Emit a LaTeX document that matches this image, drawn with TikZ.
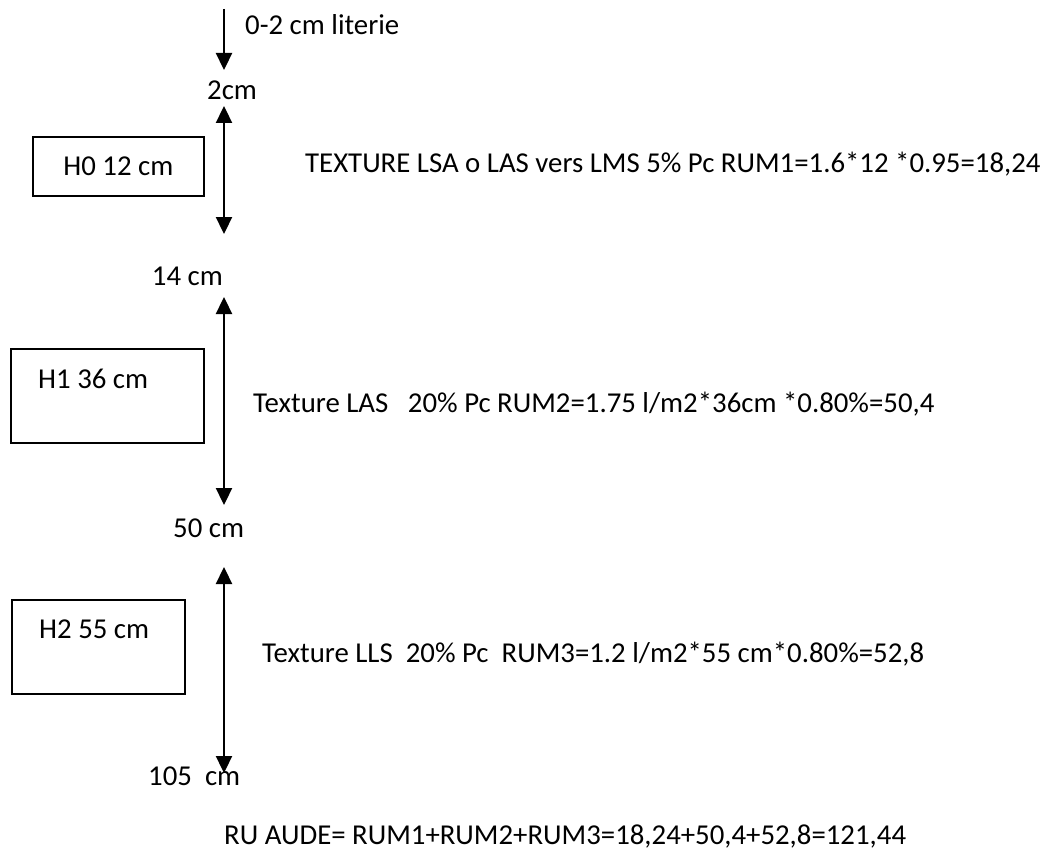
\documentclass[tikz,border=0pt]{standalone}
\usepackage{fontspec}
\setmainfont{Carlito}
\usetikzlibrary{arrows.meta}
\begin{document}
\begin{tikzpicture}[x=1pt,y=-1pt,
  txt/.style={font=\fontsize{28.8}{34}\selectfont, inner sep=0pt, anchor=base west},
  boxnode/.style={draw, line width=1.8pt, inner sep=0pt, anchor=north west, font=\fontsize{28.8}{34}\selectfont},
  arr/.style={line width=2.3pt, -{Triangle[width=16pt,length=17pt]}},
  darr/.style={line width=2.3pt, {Triangle[width=16pt,length=17pt]}-{Triangle[width=16pt,length=17pt]}}]
\useasboundingbox (0,0) rectangle (1054,853);

% top arrow
\coordinate (a1s) at (224,9);
\coordinate (a1e) at (224,70);
\draw[arr] (a1s) -- (a1e);
\node[txt] (t0) at (245,35) {0-2 cm literie};
\node[txt] (d2) at (207,100) {2cm};

% layer H0
\coordinate (a2s) at (224,106);
\coordinate (a2e) at (224,234);
\draw[darr] (a2s) -- (a2e);
\node[boxnode, minimum width=171pt, minimum height=59pt] (b0) at (32,136) {H0 12 cm};
\node[txt] (l0) at (305,173) {TEXTURE LSA o LAS vers LMS 5\% Pc RUM1=1.6*12 *0.95=18,24};
\node[txt, anchor=base east] (d14) at (223,285) {14 cm};

% layer H1
\coordinate (a3s) at (224,297);
\coordinate (a3e) at (224,505);
\draw[darr] (a3s) -- (a3e);
\node[boxnode, minimum width=193pt, minimum height=94pt] (b1) at (10,348) {};
\node[txt] (b1t) at (38,388) {H1 36 cm};
\node[txt] (l1) at (253,412) {Texture LAS\ \ \ 20\% Pc RUM2=1.75 l/m2*36cm *0.80\%=50,4};
\node[txt] (d50) at (173,537) {50 cm};

% layer H2
\coordinate (a4s) at (224,567);
\coordinate (a4e) at (224,773);
\draw[darr] (a4s) -- (a4e);
\node[boxnode, minimum width=173pt, minimum height=94pt] (b2) at (11,599) {};
\node[txt] (b2t) at (39,638) {H2 55 cm};
\node[txt] (l2) at (262,662) {Texture LLS\ \ 20\% Pc\ \ RUM3=1.2 l/m2*55 cm*0.80\%=52,8};
\node[txt] (d105) at (148,785) {105\ \ cm};

% total
\node[txt] (tot) at (224,844) {RU AUDE= RUM1+RUM2+RUM3=18,24+50,4+52,8=121,44};
\end{tikzpicture}
\end{document}
